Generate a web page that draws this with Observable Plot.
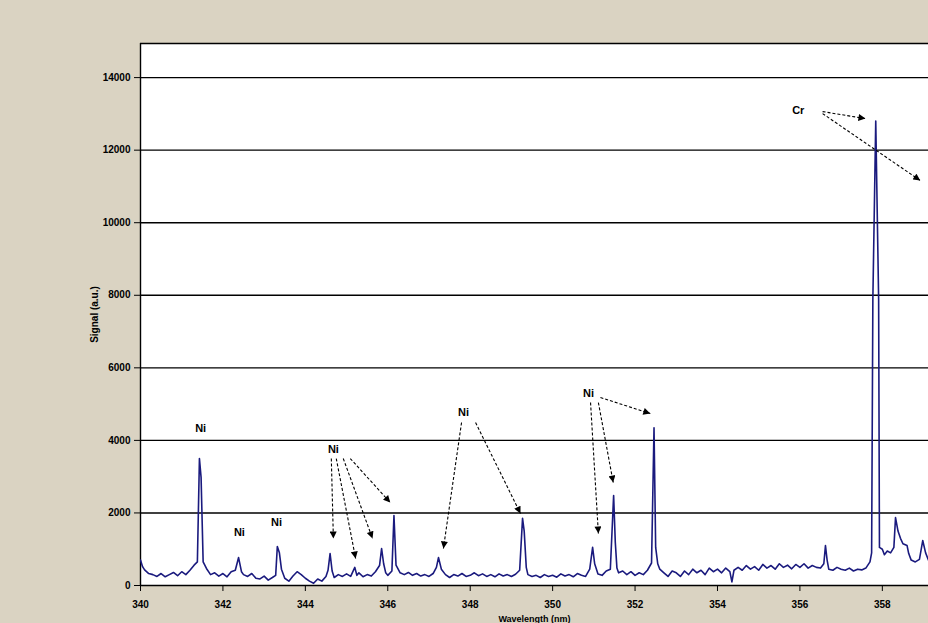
<!DOCTYPE html>
<html>
<head>
<meta charset="utf-8">
<script src="https://cdn.jsdelivr.net/npm/d3@7"></script>
<script src="https://cdn.jsdelivr.net/npm/@observablehq/plot@0.6"></script>
<style>
  html, body { margin: 0; padding: 0; background: #dad3c2; overflow: hidden; }
  #chart { width: 928px; height: 623px; }
</style>
</head>
<body>
<div id="chart"></div>
<script>
// Spectrum (wavelength in nm, signal in a.u.)
const wavelength = [
  340.00,340.05,340.10,340.20,340.30,340.40,340.50,340.60,340.70,340.80,340.90,341.00,341.10,341.20,341.30,341.38,341.43,341.47,341.52,341.60,
  341.70,341.80,341.90,342.00,342.10,342.20,342.30,342.38,342.45,342.50,342.60,342.70,342.80,342.90,343.00,343.10,343.20,343.28,343.32,343.37,
  343.42,343.50,343.60,343.70,343.80,343.90,344.00,344.10,344.20,344.30,344.40,344.50,344.55,344.60,344.65,344.70,344.80,344.90,345.00,345.10,
  345.20,345.25,345.30,345.40,345.50,345.60,345.70,345.80,345.85,345.90,345.95,346.00,346.10,346.15,346.20,346.30,346.40,346.50,346.60,346.70,
  346.80,346.90,347.00,347.10,347.18,347.23,347.30,347.40,347.50,347.60,347.70,347.80,347.90,348.00,348.10,348.20,348.30,348.40,348.50,348.60,
  348.70,348.80,348.90,349.00,349.10,349.20,349.27,349.31,349.36,349.40,349.50,349.60,349.70,349.80,349.90,350.00,350.10,350.20,350.30,350.40,
  350.50,350.60,350.70,350.80,350.90,350.97,351.02,351.10,351.20,351.30,351.40,351.44,351.48,351.52,351.56,351.60,351.70,351.80,351.90,352.00,
  352.10,352.20,352.30,352.40,352.46,352.50,352.55,352.60,352.70,352.80,352.90,353.00,353.10,353.20,353.30,353.40,353.50,353.60,353.70,353.80,
  353.90,354.00,354.10,354.20,354.30,354.35,354.40,354.50,354.60,354.70,354.80,354.90,355.00,355.10,355.20,355.30,355.40,355.50,355.60,355.70,
  355.80,355.90,356.00,356.10,356.20,356.30,356.40,356.50,356.58,356.62,356.66,356.70,356.80,356.90,357.00,357.10,357.20,357.30,357.40,357.50,
  357.60,357.70,357.74,357.77,357.84,357.91,357.93,358.00,358.05,358.12,358.20,358.28,358.32,358.38,358.44,358.50,358.60,358.64,358.70,358.80,
  358.90,358.98,359.05,359.12
];
const signal = [
  700,520,430,330,300,250,330,240,300,360,270,380,300,420,560,650,3500,2980,650,470,
  300,350,260,330,240,380,420,770,380,300,250,330,200,180,260,150,220,280,1075,900,
  450,200,120,260,380,300,200,120,60,180,120,250,420,880,400,220,300,250,320,250,
  500,280,350,240,300,260,380,550,1020,600,350,280,400,1930,560,350,300,360,280,330,
  260,300,250,330,500,770,450,300,220,300,260,330,250,280,350,270,320,250,300,240,
  320,260,300,250,310,420,1850,1500,500,300,250,280,220,300,250,280,230,320,260,300,
  240,330,280,250,450,1050,600,320,280,400,450,1460,2480,1200,480,350,400,300,380,280,
  350,300,420,620,4350,1050,600,450,350,250,400,350,250,400,300,450,350,420,300,480,
  380,450,350,480,380,100,420,500,420,550,450,520,420,580,480,550,450,600,500,560,
  460,580,500,600,480,550,500,480,600,1100,700,450,420,500,450,420,480,400,450,430,
  480,650,900,7900,12800,7900,1050,1000,850,950,900,1050,1870,1500,1300,1150,1100,880,700,650,
  720,1240,900,700
];

// Axis ticks
const xTicks = [340, 342, 344, 346, 348, 350, 352, 354, 356, 358];
const yTicks = [0, 2000, 4000, 6000, 8000, 10000, 12000, 14000];
const xDomain = [340, 359.12];
const yDomain = [0, 14940];

// Line identification labels
const labelText = ["Ni", "Ni", "Ni", "Ni", "Ni", "Ni", "Cr"];
const labelX = [341.46, 342.40, 343.30, 344.68, 347.84, 350.87, 355.96];
const labelY = [4327, 1461, 1736, 3748, 4768, 5292, 13091];

// Arrows from labels to peaks
const arrowX1 = [344.63, 344.75, 344.92, 345.09, 347.79, 348.13, 350.92, 351.11, 351.16, 356.55, 356.55];
const arrowY1 = [3500, 3500, 3500, 3500, 4492, 4492, 5043, 5043, 5181, 13063, 13008];
const arrowX2 = [344.68, 345.22, 345.63, 346.06, 347.35, 349.22, 351.11, 351.47, 352.37, 357.59, 358.92];
const arrowY2 = [1295, 744, 1295, 2287, 1020, 1984, 1433, 2839, 4740, 12870, 11162];

const spectrum = wavelength.map((w, i) => ({w, s: signal[i]}));
const labels = labelText.map((t, i) => ({t, x: labelX[i], y: labelY[i]}));
const arrows = arrowX1.map((x1, i) => ({x1, y1: arrowY1[i], x2: arrowX2[i], y2: arrowY2[i]}));

const chart = Plot.plot({
  width: 928,
  height: 623,
  marginLeft: 140,
  marginRight: 0,
  marginTop: 43,
  marginBottom: 38,
  style: {fontFamily: "'Liberation Sans', Arial, sans-serif", fontSize: "10px", background: "transparent", color: "black"},
  x: {domain: xDomain},
  y: {domain: yDomain},
  marks: [
    Plot.frame({fill: "white", stroke: null}),
    Plot.ruleY(yTicks, {stroke: "black", strokeWidth: 1.4}),
    Plot.ruleY([yDomain[1]], {stroke: "black", strokeWidth: 1.4}),
    Plot.ruleX([xDomain[0]], {stroke: "black", strokeWidth: 1.4}),
    Plot.line(spectrum, {x: "w", y: "s", stroke: "#1a1a7e", strokeWidth: 1.6, curve: "linear", clip: true}),
    Plot.link(arrows, {x1: "x1", y1: "y1", x2: "x2", y2: "y2", stroke: "black", strokeWidth: 1.1, strokeDasharray: "3,2"}),
    Plot.text(labels, {x: "x", y: "y", text: "t", fontWeight: "bold", fontSize: 11, fill: "black"}),
    Plot.axisX({ticks: xTicks, tickSize: 6, tickPadding: 9, tickFormat: d => String(d), fontWeight: "bold", fontSize: 10}),
    Plot.axisX({ticks: [], tickSize: 0, label: "Wavelength (nm)", labelAnchor: "center", labelOffset: 36, labelArrow: "none", fontSize: 9, fontWeight: "bold"}),
    Plot.axisY({ticks: yTicks, tickSize: 6, tickPadding: 4, tickFormat: d => String(d), fontWeight: "bold", fontSize: 10,
      label: "Signal (a.u.)", labelAnchor: "center", labelOffset: 50, labelArrow: "none"})
  ]
});

// filled triangular arrow heads
const ns = "http://www.w3.org/2000/svg";
const defs = document.createElementNS(ns, "defs");
const marker = document.createElementNS(ns, "marker");
marker.setAttribute("id", "tri");
marker.setAttribute("viewBox", "0 0 10 10");
marker.setAttribute("refX", "10");
marker.setAttribute("refY", "5");
marker.setAttribute("markerWidth", "8");
marker.setAttribute("markerHeight", "7");
marker.setAttribute("markerUnits", "userSpaceOnUse");
marker.setAttribute("orient", "auto");
const mp = document.createElementNS(ns, "path");
mp.setAttribute("d", "M0,0L10,5L0,10z");
mp.setAttribute("fill", "black");
marker.appendChild(mp);
defs.appendChild(marker);
chart.insertBefore(defs, chart.firstChild);
chart.querySelectorAll('g[aria-label="link"] path').forEach(p => p.setAttribute("marker-end", "url(#tri)"));

document.getElementById("chart").appendChild(chart);
</script>
</body>
</html>
